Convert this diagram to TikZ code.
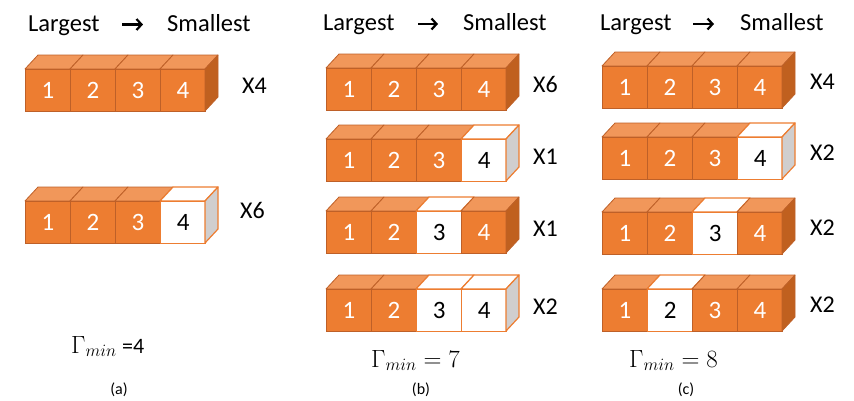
\documentclass[tikz,border=0pt]{standalone}
\usepackage{fontspec}
\setmainfont{Carlito}
\usetikzlibrary{arrows.meta}
\definecolor{org}{HTML}{ED7D31}
\definecolor{orgtop}{HTML}{F1975A}
\definecolor{orgside}{HTML}{C0601F}
\definecolor{orgline}{HTML}{BE6028}
\definecolor{grayside}{HTML}{D0CECE}
\tikzset{
  cellbase/.style={minimum width=45pt, minimum height=42pt, inner sep=0pt, anchor=north west, font=\fontsize{25}{28}\selectfont},
  fronto/.style={cellbase, draw=orgline, fill=org, line width=0.8pt, text=white},
  frontw/.style={cellbase, draw=org, fill=white, line width=1.2pt, text=black},
  topo/.style={draw=orgline, fill=orgtop, line width=0.8pt, line join=round},
  topw/.style={draw=org, fill=white, line width=1.2pt, line join=round},
  sideo/.style={draw=orgline, fill=orgside, line width=0.8pt, line join=round},
  sidew/.style={draw=org, fill=grayside, line width=1.2pt, line join=round},
  lbl/.style={font=\fontsize{24}{28}\selectfont, anchor=west, inner sep=0pt},
  ttl/.style={font=\fontsize{24.5}{28}\selectfont, anchor=base west, inner sep=0pt},
  captxt/.style={font=\fontsize{16}{19}\selectfont, anchor=base, inner sep=0pt},
  gam/.style={font=\fontsize{24}{28}\selectfont, anchor=base west, inner sep=0pt},
  arr/.style={line width=2.2pt, -{Straight Barb[length=5pt,width=11pt,line width=2.2pt]}},
}
\newcommand\cuberow[5]{%
  \foreach \t [count=\i from 0] in {#4}{%
    \pgfmathsetmacro\xl{#2+45*\i}%
    \pgfmathtruncatemacro\n{\i+1}%
    \tikzset{curfront/.style/.expanded={front\t}, curtop/.style/.expanded={top\t}}%
    \path[curtop] (\xl,#3) -- ++(13,-14) -- ++(45,0) -- ++(-13,14) -- cycle;
    \node[curfront] (#1c\n) at (\xl,#3) {\n};
  }%
  \path[side#5] (#2+180,#3) -- ++(13,-14) -- ++(0,42) -- ++(-13,14) -- cycle;
}
\begin{document}
\begin{tikzpicture}[x=1pt,y=-1pt]
\useasboundingbox (0,0) rectangle (854,400);
% titles
\node[ttl] (ta1) at (28,31) {Largest};
\coordinate (tas) at (122,24.5); \coordinate (tae) at (143,24.5);
\draw[arr] (tas) -- (tae);
\node[ttl] (ta2) at (167,31) {Smallest};
\node[ttl] (tb1) at (323,30) {Largest};
\coordinate (tbs) at (418,24); \coordinate (tbe) at (438,24);
\draw[arr] (tbs) -- (tbe);
\node[ttl] (tb2) at (463,30) {Smallest};
\node[ttl] (tc1) at (600,30) {Largest};
\coordinate (tcs) at (693,24); \coordinate (tce) at (714,24);
\draw[arr] (tcs) -- (tce);
\node[ttl] (tc2) at (740,30) {Smallest};
% panel (a)
\cuberow{a1}{25}{69}{o,o,o,o}{o}
\cuberow{a2}{25}{201}{o,o,o,w}{w}
\node[lbl] (la1) at (242,86) {X4};
\node[lbl] (la2) at (240,210) {X6};
% panel (b)
\cuberow{b1}{326}{68}{o,o,o,o}{o}
\cuberow{b2}{326}{139}{o,o,o,w}{w}
\cuberow{b3}{326}{211}{o,o,w,o}{o}
\cuberow{b4}{326}{289}{o,o,w,w}{w}
\node[lbl] (lb1) at (533,84.5) {X6};
\node[lbl] (lb2) at (533,157) {X1};
\node[lbl] (lb3) at (533,229) {X1};
\node[lbl] (lb4) at (533,307) {X2};
% panel (c)
\cuberow{c1}{602}{66}{o,o,o,o}{o}
\cuberow{c2}{602}{137}{o,o,o,w}{w}
\cuberow{c3}{602}{212}{o,o,w,o}{o}
\cuberow{c4}{602}{289}{o,w,o,o}{o}
\node[lbl] (lc1) at (810,82) {X4};
\node[lbl] (lc2) at (810,153) {X2};
\node[lbl] (lc3) at (810,228) {X2};
\node[lbl] (lc4) at (810,305) {X2};
% gamma values
\node[gam] (ga) at (71,353) {$\Gamma_{min}$ {\fontsize{22}{26}\selectfont =4}};
\node[gam] (gb) at (371,367) {$\Gamma_{min} = 7$};
\node[gam] (gc) at (629,367) {$\Gamma_{min} = 8$};
% captions
\node[captxt] (ca) at (119,394) {(a)};
\node[captxt] (cb) at (421,394) {(b)};
\node[captxt] (cc) at (686,394) {(c)};
\end{tikzpicture}
\end{document}
